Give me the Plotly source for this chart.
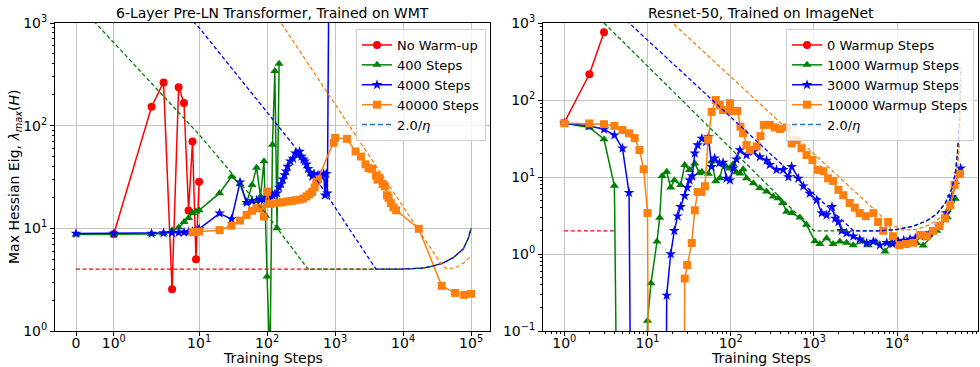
import numpy as np
import plotly.graph_objects as go

# ---------------- Left panel: 6-Layer Pre-LN Transformer (WMT) ----------------
L_red_x = [1, 2, 3, 4, 5, 6, 7, 8, 9, 10]
L_red_y = [8.8, 153, 264, 2.55, 237, 166, 14.9, 70, 5.0, 28.4]

L_green_x = [0, 1, 2, 3, 4, 5, 6, 7, 8, 9, 10, 20, 30, 40, 50, 60, 70, 80, 90, 100, 110, 120, 130, 140, 150]
L_green_y = [8.7, 8.7, 8.8, 8.9, 9.5, 10.2, 11.5, 12.6, 14.1, 14.6, 15, 22, 32, 27, 17.7, 26.5, 39, 20.4, 45,
             3.4, 0.5, 65, 340, 10, 400]

L_blue_x = [0, 1, 2, 3, 4, 5, 6, 7, 8, 9, 10, 20, 30, 40, 50, 60, 70, 80, 90, 100, 110, 120, 130, 140, 150,
            160, 170, 180, 190, 200, 220, 240, 260, 280, 300, 320, 340, 360, 380, 400, 430, 460, 490, 520,
            560, 600, 640, 680, 710, 740, 770, 810]
L_blue_y = [8.9, 8.9, 8.9, 9.0, 9.05, 9.1, 9.15, 9.2, 9.3, 9.5, 9.9, 14, 12.3, 28.2, 17.8, 18.5, 18.7, 18.9,
            19, 20, 19.5, 21, 21.5, 22, 25, 27, 30, 33, 36, 40, 45, 48, 54, 52, 56, 50, 47, 45, 42, 38, 35,
            32, 34, 31, 33, 33, 32, 34, 21, 34, 22, 3000]

L_orange_x = [8, 9, 10, 20, 30, 40, 50, 60, 70, 80, 90, 100, 110, 130, 150, 170, 200, 230, 260, 300, 340,
              380, 420, 460, 500, 530, 560, 950, 1000, 1500, 2000, 2400, 2800, 3100, 3500, 4000, 4200, 4500,
              5000, 5400, 5800, 6100, 6600, 7200, 7900, 17000, 37000, 58000, 79000, 100000]
L_orange_y = [9.2, 9.2, 9.3, 9.6, 10.6, 11.9, 13.5, 14.8, 15.7, 15.7, 13, 22.8, 17.3, 17.5, 17.8, 18, 18.3,
              18.5, 18.8, 19, 19.5, 20.5, 21.5, 22.6, 25, 28.5, 30, 68, 76, 74.4, 56, 50, 42, 38.6, 38, 32.6,
              29.8, 31, 27, 25.6, 21, 19.8, 17.6, 16, 15, 9.9, 2.75, 2.35, 2.25, 2.3]

# 2.0/eta reference curves (left)
L_eta_red_x = [0, 9000, 19800, 27900, 39000, 55000, 76800, 91000, 100000]
L_eta_red_y = [4.0, 4.0, 4.1, 4.3, 4.6, 5.2, 6.3, 8.0, 10.0]
L_eta_green_x = [0, 10, 100, 400, 9000, 19800, 27900, 39000, 55000, 76800, 91000, 100000]
L_eta_green_y = [1600, 82, 13.5, 4.0, 4.0, 4.1, 4.3, 4.6, 5.2, 6.3, 8.0, 10.0]
L_eta_blue_x = [0, 10, 100, 257, 4000, 9000, 19800, 27900, 39000, 55000, 76800, 91000, 100000]
L_eta_blue_y = [16000, 900, 135, 62, 4.0, 4.0, 4.1, 4.3, 4.6, 5.2, 6.3, 8.0, 10.0]
L_eta_orange_x = [100, 20000, 30000, 38000, 45000, 62000, 81000, 100000]
L_eta_orange_y = [1600, 8.0, 5.3, 4.3, 4.0, 4.2, 4.7, 5.4]

L_xtick_vals = [0, 1, 10, 100, 1000, 10000, 100000]
L_xtick_text = ["0", "10<sup>0</sup>", "10<sup>1</sup>", "10<sup>2</sup>", "10<sup>3</sup>",
                "10<sup>4</sup>", "10<sup>5</sup>"]
L_ytick_vals = [1, 10, 100, 1000]
L_ytick_text = ["10<sup>0</sup>", "10<sup>1</sup>", "10<sup>2</sup>", "10<sup>3</sup>"]

# ---------------- Right panel: Resnet-50 (ImageNet) ----------------
R_red_x = [1, 2, 3]
R_red_y = [50.7, 216, 757]

R_green_x = [1, 2, 3, 4, 5, 9, 10, 11, 13, 14, 15, 17, 19, 21, 25, 28, 32, 37, 42, 45, 54, 59, 66, 74, 81, 89,
             98, 107, 117, 129, 141, 155, 187, 224, 270, 325, 372, 420, 470, 540, 680, 815, 1030, 1180, 1420,
             1700, 2050, 2470, 2970, 3900, 4500, 5500, 7160, 8500, 10000, 12000, 14000, 17000, 20600, 30000,
             40000, 50000]
R_green_y = [50, 44, 30.9, 7.7, 1e-9, 1e-9, 0.136, 0.416, 1.45, 2.96, 10.3, 11.7, 7.3, 9.1, 7.9, 14.3, 12.3,
             15, 11.3, 11.7, 11, 16, 8.8, 9.6, 14.6, 13.6, 12.9, 14.6, 11.5, 11.1, 12.6, 9.6, 8.3, 7.2, 6.5,
             5.6, 5.3, 4.6, 3.55, 3.4, 2.97, 2.4, 1.46, 1.35, 1.6, 1.35, 1.45, 1.4, 1.3, 1.45, 1.3, 1.45, 1.08,
             1.4, 1.5, 1.35, 1.45, 1.4, 1.29, 2.0, 3.0, 5.2]

R_blue_x = [1, 2, 3, 4, 5, 6, 7, 16, 17, 19, 21, 23, 25, 28, 30, 32, 34.5, 37, 40, 45, 50.5, 54, 59, 64, 73,
            81, 89, 98, 107, 117, 129, 155, 187, 224, 270, 295, 355, 427, 493, 540, 650, 745, 890, 1080, 1240,
            1420, 1650, 1800, 1970, 2150, 2470, 2970, 3550, 4300, 5170, 6200, 7500, 8800, 10300, 12000, 14300,
            16500, 19000, 24600, 32000, 39000, 45300, 50000, 55000, 58000]
R_blue_y = [50, 46, 41.7, 35, 23.6, 6.25, 1e-9, 1e-9, 0.29, 1.0, 2.0, 3.1, 4.1, 5.7, 7.3, 9.1, 10.3, 20.3, 26,
            31.6, 28.6, 33, 13.6, 17.5, 15.2, 15.4, 9.6, 9.1, 13, 17, 22.4, 19.3, 21.3, 18.2, 16.4, 14.4, 12.4,
            12.4, 10, 13.6, 9.6, 7.6, 6.1, 5.0, 3.4, 3.2, 4.1, 2.9, 2.6, 2.0, 1.87, 1.7, 1.55, 1.39, 1.45, 1.3,
            1.4, 1.35, 1.45, 1.5, 1.55, 1.6, 1.7, 1.87, 2.3, 3.4, 5.5, 8, 11, 13]

R_orange_x = [1, 2, 3, 4, 5, 6, 7, 8, 9, 10, 11, 26, 28, 30, 34, 37, 40, 44.5, 49, 53.5, 59, 66, 74, 81, 93,
              98, 107, 120, 131, 141, 155, 170, 205, 228, 250, 295, 340, 390, 470, 540, 620, 710, 815, 960,
              1120, 1300, 1480, 1700, 1970, 2250, 2690, 3100, 3550, 4200, 5170, 5900, 6800, 7800, 8900, 10700,
              12800, 15700, 19000, 22700, 27000, 32000, 37600, 43500, 49000, 57000]
R_orange_y = [50, 49.6, 48.5, 46, 40.8, 37, 32, 22.4, 12.6, 3.4, 1e-9, 1e-9, 0.48, 0.72, 1.39, 3.7, 6.4, 6.4,
              7.6, 30.4, 70, 100, 86, 74, 74, 91, 72, 72, 45, 37, 26, 22.4, 25, 34, 47.5, 47.5, 44, 42, 44,
              27.3, 30, 23.6, 19.3, 16.6, 12.4, 11.9, 9.6, 8.9, 6.8, 5.8, 4.6, 4.0, 3.4, 3.1, 3.4, 2.6, 2.0, 2.6,
              1.7, 1.3, 1.35, 1.4, 1.77, 1.7, 2.0, 2.3, 2.9, 4.3, 7.9, 11]

# 2.0/eta reference curves (right)
R_eta_red_x = [1, 4]
R_eta_red_y = [2.0, 2.0]
R_eta_green_x = [3, 1000, 6000, 9900, 15700, 22700, 29900, 38000, 45300, 50000, 53000, 56000, 57500, 58300]
R_eta_green_y = [1000, 2.0, 2.0, 2.08, 2.3, 2.7, 3.3, 4.6, 7.0, 11, 20, 50, 110, 250]
R_eta_blue_x = [1, 3000, 6000, 9900, 15700, 22700, 29900, 38000, 45300, 50000, 53000, 56000, 57500, 58300]
R_eta_blue_y = [6000, 2.0, 2.0, 2.08, 2.3, 2.7, 3.3, 4.6, 7.0, 11, 20, 50, 110, 250]
R_eta_orange_x = [1, 6000, 8200, 11800, 17000, 24600, 32000, 39500, 47000, 53000, 57000, 58000, 58500]
R_eta_orange_y = [20000, 3.33, 2.45, 2.05, 2.08, 2.4, 2.9, 3.7, 5.5, 11, 37, 100, 300]

R_xtick_vals = [1, 10, 100, 1000, 10000]
R_xtick_text = ["10<sup>0</sup>", "10<sup>1</sup>", "10<sup>2</sup>", "10<sup>3</sup>", "10<sup>4</sup>"]
R_ytick_vals = [0.1, 1, 10, 100, 1000]
R_ytick_text = ["10<sup>\u22121</sup>", "10<sup>0</sup>", "10<sup>1</sup>", "10<sup>2</sup>", "10<sup>3</sup>"]

# ---------------- symlog transform (matplotlib-style, linthresh=2) ----------------
LINTHRESH = 2.0
LINSCALE_ADJ = 1.0 / (1.0 - 1.0 / 10.0)


def symlog(values):
    v = np.asarray(values, dtype=float)
    a = np.abs(v)
    safe = np.where(a > 0, a, 1.0)
    logpart = np.sign(v) * LINTHRESH * (LINSCALE_ADJ + np.log10(safe / LINTHRESH))
    return np.where(a <= LINTHRESH, v * LINSCALE_ADJ, logpart).tolist()


RED, GREEN, BLUE, ORANGE, TABBLUE = "#ff0000", "#008000", "#0000ff", "#ff7f0e", "#1f77b4"
FONT = "DejaVu Sans"
FS = 14
FS_LEG = 13

fig = go.Figure()


def solid(x, y, color, symbol, size, name, xa, ya, legend):
    fig.add_trace(go.Scatter(
        x=x, y=y, mode="lines+markers", name=name,
        line=dict(color=color, width=1.5),
        marker=dict(color=color, symbol=symbol, size=size, line=dict(width=0)),
        xaxis=xa, yaxis=ya, legend=legend, cliponaxis=True))


def dashed(x, y, color, xa, ya):
    fig.add_trace(go.Scatter(
        x=x, y=y, mode="lines", line=dict(color=color, width=1.3, dash="4px,2.5px"),
        xaxis=xa, yaxis=ya, showlegend=False, hoverinfo="skip"))


# left panel traces
solid(symlog(L_red_x), L_red_y, RED, "circle", 8, "No Warm-up", "x", "y", "legend")
solid(symlog(L_green_x), L_green_y, GREEN, "triangle-up", 8, "400 Steps", "x", "y", "legend")
solid(symlog(L_blue_x), L_blue_y, BLUE, "star", 8, "4000 Steps", "x", "y", "legend")
solid(symlog(L_orange_x), L_orange_y, ORANGE, "square", 8, "40000 Steps", "x", "y", "legend")
dashed(symlog(L_eta_red_x), L_eta_red_y, RED, "x", "y")
dashed(symlog(L_eta_green_x), L_eta_green_y, GREEN, "x", "y")
dashed(symlog(L_eta_blue_x), L_eta_blue_y, BLUE, "x", "y")
dashed(symlog(L_eta_orange_x), L_eta_orange_y, ORANGE, "x", "y")
fig.add_trace(go.Scatter(x=[None], y=[None], mode="lines", name="2.0/<i>\u03b7</i>",
                         line=dict(color=TABBLUE, width=1.5, dash="5px,3px"),
                         xaxis="x", yaxis="y", legend="legend"))

# right panel traces
solid(R_red_x, R_red_y, RED, "circle", 8, "0 Warmup Steps", "x2", "y2", "legend2")
solid(R_green_x, R_green_y, GREEN, "triangle-up", 8, "1000 Warmup Steps", "x2", "y2", "legend2")
solid(R_blue_x, R_blue_y, BLUE, "star", 8, "3000 Warmup Steps", "x2", "y2", "legend2")
solid(R_orange_x, R_orange_y, ORANGE, "square", 8, "10000 Warmup Steps", "x2", "y2", "legend2")
dashed(R_eta_red_x, R_eta_red_y, RED, "x2", "y2")
dashed(R_eta_green_x, R_eta_green_y, GREEN, "x2", "y2")
dashed(R_eta_blue_x, R_eta_blue_y, BLUE, "x2", "y2")
dashed(R_eta_orange_x, R_eta_orange_y, ORANGE, "x2", "y2")
fig.add_trace(go.Scatter(x=[None], y=[None], mode="lines", name="2.0/<i>\u03b7</i>",
                         line=dict(color=TABBLUE, width=1.5, dash="5px,3px"),
                         xaxis="x2", yaxis="y2", legend="legend2"))

W, H = 980, 367
ax_common = dict(showline=True, linecolor="black", linewidth=1, mirror=True,
                 ticks="outside", ticklen=4, tickcolor="black", tickwidth=1,
                 showgrid=True, gridcolor="#c4c4c4", gridwidth=1, zeroline=False,
                 tickfont=dict(family=FONT, size=FS, color="black"), automargin=False)
minor_log = dict(ticks="outside", ticklen=2, tickcolor="black", dtick="D1", showgrid=False)

ydom = [(H - 331) / H, (H - 23) / H]

fig.update_layout(
    width=W, height=H, margin=dict(l=0, r=0, t=0, b=0),
    paper_bgcolor="white", plot_bgcolor="white",
    font=dict(family=FONT, size=FS, color="black"),
    xaxis=dict(domain=[55 / W, 490 / W], range=[-0.618, 12.176], tickmode="array",
               tickvals=symlog(L_xtick_vals), ticktext=L_xtick_text, anchor="y",
               ticklabelstandoff=-5, **ax_common),
    yaxis=dict(domain=ydom, type="log", range=[0, 3], tickmode="array",
               tickvals=L_ytick_vals, ticktext=L_ytick_text, anchor="x", minor=minor_log, **ax_common),
    xaxis2=dict(domain=[543 / W, 978 / W], type="log", range=[-0.256, 4.972], tickmode="array",
                tickvals=R_xtick_vals, ticktext=R_xtick_text, anchor="y2", minor=minor_log,
                ticklabelstandoff=-5, **ax_common),
    yaxis2=dict(domain=ydom, type="log", range=[-1, 3], tickmode="array",
                tickvals=R_ytick_vals, ticktext=R_ytick_text, anchor="x2", minor=minor_log, **ax_common),
    legend=dict(x=486 / W, y=1 - 29 / H, xanchor="right", yanchor="top",
                bgcolor="rgba(255,255,255,0.8)", bordercolor="#cccccc", borderwidth=1,
                font=dict(family=FONT, size=FS_LEG, color="black"), itemwidth=30),
    legend2=dict(x=974 / W, y=1 - 29 / H, xanchor="right", yanchor="top",
                 bgcolor="rgba(255,255,255,0.8)", bordercolor="#cccccc", borderwidth=1,
                 font=dict(family=FONT, size=FS_LEG, color="black"), itemwidth=30),
    showlegend=True,
)

annots = [
    dict(text="6-Layer Pre-LN Transformer, Trained on WMT", x=(55 + 490) / 2 / W, y=1 - 13 / H),
    dict(text="Resnet-50, Trained on ImageNet", x=(543 + 978) / 2 / W, y=1 - 13 / H),
    dict(text="Training Steps", x=(55 + 490) / 2 / W, y=1 - 358 / H),
    dict(text="Training Steps", x=(543 + 978) / 2 / W, y=1 - 358 / H),
]
for a in annots:
    fig.add_annotation(xref="paper", yref="paper", showarrow=False, xanchor="center", yanchor="middle",
                       font=dict(family=FONT, size=FS, color="black"), **a)
fig.add_annotation(xref="paper", yref="paper", showarrow=False, xanchor="center", yanchor="middle",
                   x=15 / W, y=1 - 177 / H, textangle=-90,
                   text="Max Hessian Eig, <i>\u03bb</i><sub><i>max</i></sub>(<i>H</i>)",
                   font=dict(family=FONT, size=FS, color="black"))

fig.write_html("out.html", config={"displayModeBar": False},
               post_script="document.body.style.margin='0px';document.body.style.overflow='hidden';")
